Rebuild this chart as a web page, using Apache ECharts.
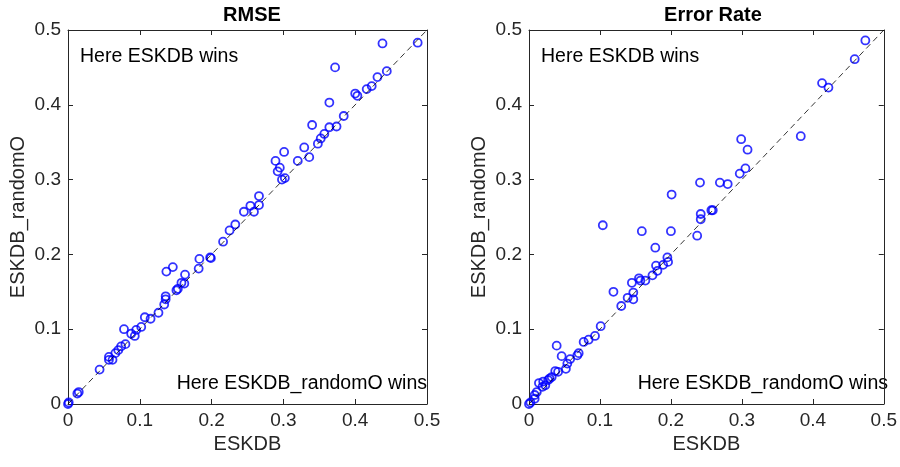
<!DOCTYPE html>
<html>
<head>
<meta charset="utf-8">
<script src="https://cdn.jsdelivr.net/npm/echarts@6/dist/echarts.min.js"></script>
<style>
html, body { margin: 0; padding: 0; background: #fff; }
#chart { width: 900px; height: 467px; }
</style>
</head>
<body>
<div id="chart"></div>
<script>
// RMSE panel (x = ESKDB, y = ESKDB_randomO)
var rmseX = [0.487, 0.438, 0.372, 0.444, 0.431, 0.423, 0.416, 0.400, 0.403, 0.364, 0.384, 0.340, 0.364, 0.374, 0.357, 0.352, 0.348, 0.329, 0.301, 0.336, 0.320, 0.289, 0.295, 0.292, 0.298, 0.302, 0.266, 0.254, 0.266, 0.245, 0.259, 0.233, 0.225, 0.216, 0.198, 0.199, 0.183, 0.182, 0.146, 0.137, 0.163, 0.158, 0.162, 0.151, 0.153, 0.136, 0.136, 0.134, 0.126, 0.107, 0.115, 0.102, 0.078, 0.095, 0.088, 0.093, 0.080, 0.074, 0.070, 0.066, 0.057, 0.057, 0.062, 0.044, 0.015, 0.013, 0.001, 0];
var rmseY = [0.483, 0.482, 0.450, 0.445, 0.437, 0.425, 0.421, 0.415, 0.412, 0.403, 0.385, 0.373, 0.370, 0.371, 0.361, 0.355, 0.348, 0.343, 0.337, 0.330, 0.325, 0.325, 0.316, 0.311, 0.300, 0.302, 0.278, 0.265, 0.266, 0.257, 0.257, 0.240, 0.232, 0.217, 0.196, 0.195, 0.194, 0.181, 0.183, 0.177, 0.173, 0.162, 0.161, 0.152, 0.154, 0.144, 0.140, 0.133, 0.122, 0.116, 0.114, 0.103, 0.100, 0.099, 0.094, 0.091, 0.080, 0.077, 0.072, 0.068, 0.063, 0.059, 0.059, 0.046, 0.016, 0.014, 0.002, 0];

// Error Rate panel
var errX = [0.474, 0.459, 0.413, 0.422, 0.383, 0.299, 0.308, 0.305, 0.297, 0.241, 0.269, 0.280, 0.201, 0.242, 0.257, 0.259, 0.242, 0.237, 0.104, 0.159, 0.200, 0.178, 0.195, 0.196, 0.189, 0.179, 0.181, 0.174, 0.164, 0.155, 0.157, 0.145, 0.119, 0.147, 0.139, 0.147, 0.130, 0.101, 0.093, 0.084, 0.077, 0.039, 0.070, 0.068, 0.058, 0.046, 0.054, 0.052, 0.041, 0.037, 0.032, 0.029, 0.027, 0.020, 0.014, 0.023, 0.019, 0.011, 0.008, 0.008, 0.002, 0];
var errY = [0.486, 0.461, 0.429, 0.423, 0.358, 0.354, 0.340, 0.315, 0.308, 0.296, 0.296, 0.294, 0.280, 0.254, 0.259, 0.259, 0.247, 0.225, 0.239, 0.231, 0.231, 0.209, 0.196, 0.190, 0.186, 0.185, 0.178, 0.172, 0.165, 0.168, 0.165, 0.162, 0.150, 0.149, 0.142, 0.140, 0.131, 0.104, 0.091, 0.086, 0.083, 0.078, 0.068, 0.065, 0.060, 0.064, 0.054, 0.047, 0.043, 0.044, 0.036, 0.034, 0.032, 0.030, 0.028, 0.025, 0.023, 0.016, 0.012, 0.007, 0.002, 0];

var diag = [0, 0.5];
var ticks = [0, 0.1, 0.2, 0.3, 0.4, 0.5];
var titles = ['RMSE', 'Error Rate'];

var FONT = '"Liberation Sans", Arial, sans-serif';
var AX = '#262626';

function pairs(xs, ys) {
    var out = [];
    for (var i = 0; i < xs.length; i++) out.push([xs[i], ys[i]]);
    return out;
}

function mainAxis(gi, pos, nm, gap) {
    return {
        type: 'value', gridIndex: gi, position: pos,
        min: 0, max: 0.5, interval: 0.1,
        name: nm, nameLocation: 'middle', nameGap: gap,
        nameTextStyle: { fontFamily: FONT, fontSize: 20, color: AX },
        axisLine: { show: true, lineStyle: { color: AX, width: 1 } },
        axisTick: { show: true, inside: true, length: 5, lineStyle: { color: AX } },
        axisLabel: {
            fontFamily: FONT, fontSize: 19, color: AX, margin: 7,
            formatter: function (v) { return ticks.indexOf(+v.toFixed(1)) >= 0 ? String(+v.toFixed(1)) : ''; }
        },
        splitLine: { show: false }
    };
}

function sideAxis(gi, pos) {
    return {
        type: 'value', gridIndex: gi, position: pos,
        min: 0, max: 0.5, interval: 0.1,
        axisLine: { show: true, onZero: false, lineStyle: { color: AX, width: 1 } },
        axisTick: { show: true, inside: true, length: 5, lineStyle: { color: AX } },
        axisLabel: { show: false },
        splitLine: { show: false }
    };
}

function scatter(xi, data) {
    return {
        type: 'scatter', xAxisIndex: xi, yAxisIndex: xi,
        data: data, symbol: 'circle', symbolSize: 8, clip: false,
        itemStyle: { color: 'rgba(0,0,0,0)', borderColor: '#0000ff', borderWidth: 1.8 },
        z: 2
    };
}

function diagLine(xi) {
    return {
        type: 'line', xAxisIndex: xi, yAxisIndex: xi,
        data: pairs(diag, diag), symbol: 'none', silent: true,
        lineStyle: { color: '#000', width: 0.8, type: [6, 4] },
        z: 3
    };
}

var myChart = echarts.init(document.getElementById('chart'));
var option = {
    animation: false,
    backgroundColor: '#fff',
    title: [
        { text: titles[0], left: 247, top: 0, textAlign: 'center',
          textStyle: { fontFamily: FONT, fontSize: 20, fontWeight: 'bold', color: '#000' } },
        { text: titles[1], left: 708, top: 0, textAlign: 'center',
          textStyle: { fontFamily: FONT, fontSize: 20, fontWeight: 'bold', color: '#000' } }
    ],
    grid: [
        { left: 68, top: 30, width: 359, height: 374 },
        { left: 529, top: 30, width: 359, height: 374 }
    ],
    xAxis: [
        mainAxis(0, 'bottom', 'ESKDB', 30),
        sideAxis(0, 'top'),
        mainAxis(1, 'bottom', 'ESKDB', 30),
        sideAxis(1, 'top')
    ],
    yAxis: [
        mainAxis(0, 'left', 'ESKDB_randomO', 40),
        sideAxis(0, 'right'),
        mainAxis(1, 'left', 'ESKDB_randomO', 40),
        sideAxis(1, 'right')
    ],
    series: [
        scatter(0, pairs(rmseX, rmseY)),
        diagLine(0),
        scatter(2, pairs(errX, errY)),
        diagLine(2)
    ],
    graphic: [
        { type: 'text', left: 80, top: 47, style: { text: 'Here ESKDB wins', font: '19.5px ' + FONT, fill: '#000' } },
        { type: 'text', left: 541, top: 47, style: { text: 'Here ESKDB wins', font: '19.5px ' + FONT, fill: '#000' } },
        { type: 'text', right: 473, top: 374, style: { text: 'Here ESKDB_randomO wins', font: '19.5px ' + FONT, fill: '#000' } },
        { type: 'text', right: 12, top: 374, style: { text: 'Here ESKDB_randomO wins', font: '19.5px ' + FONT, fill: '#000' } }
    ]
};
myChart.setOption(option);
</script>
</body>
</html>
